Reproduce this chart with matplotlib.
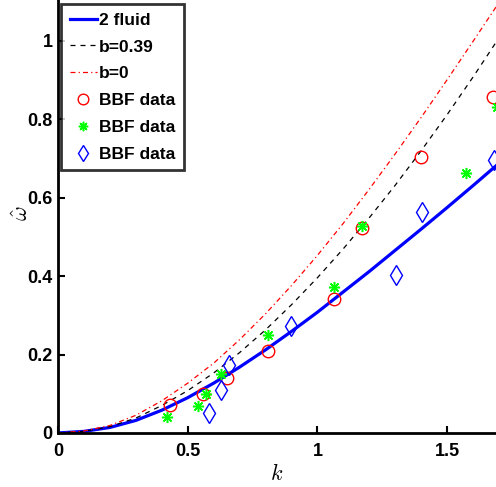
import matplotlib
matplotlib.use("Agg")
import matplotlib.pyplot as plt

# theoretical curves
k_curve = [0.0, 0.1, 0.2, 0.3, 0.4, 0.5, 0.6, 0.7, 0.8, 0.9, 1.0, 1.1, 1.2, 1.3, 1.4, 1.5, 1.6, 1.7]
w_2fluid = [0.0, 0.004, 0.014, 0.032, 0.058, 0.090, 0.127, 0.168, 0.212, 0.259, 0.308, 0.360, 0.412, 0.466, 0.520, 0.575, 0.631, 0.688]
w_b039 = [0.0, 0.004, 0.016, 0.038, 0.070, 0.108, 0.153, 0.205, 0.263, 0.327, 0.396, 0.470, 0.549, 0.632, 0.720, 0.812, 0.908, 1.008]
w_b0 = [0.0, 0.005, 0.019, 0.045, 0.082, 0.127, 0.178, 0.238, 0.304, 0.376, 0.453, 0.535, 0.622, 0.712, 0.805, 0.901, 0.999, 1.098]

# BBF data sets
k_red = [0.432, 0.559, 0.650, 0.810, 1.062, 1.172, 1.400, 1.678]
w_red = [0.070, 0.100, 0.141, 0.210, 0.342, 0.522, 0.704, 0.856]
k_green = [0.419, 0.540, 0.569, 0.628, 0.810, 1.063, 1.172, 1.573, 1.690]
w_green = [0.040, 0.069, 0.100, 0.150, 0.251, 0.372, 0.528, 0.662, 0.830]
k_blue = [0.581, 0.628, 0.659, 0.899, 1.303, 1.401, 1.682]
w_blue = [0.050, 0.110, 0.172, 0.273, 0.402, 0.563, 0.696]

x_ticks = [0, 0.5, 1, 1.5]
x_tick_labels = ["0", "0.5", "1", "1.5"]
y_ticks = [0, 0.2, 0.4, 0.6, 0.8, 1.0]
y_tick_labels = ["0", "0.2", "0.4", "0.6", "0.8", "1"]

plt.rcParams['font.family'] = ['Liberation Sans', 'DejaVu Sans']
plt.rcParams['mathtext.fontset'] = 'cm'

fig = plt.figure(figsize=(4.96, 4.87), dpi=100)
ax = fig.add_axes([0.117, 0.111, 0.883, 0.889])

ax.plot(k_curve, w_2fluid, '-', color='#0000ff', lw=2.3, label='2 fluid')
ax.plot(k_curve, w_b039, '--', color='black', lw=0.9, dashes=(4, 4), label='b=0.39')
ax.plot(k_curve, w_b0, '-.', color='red', lw=0.9, dashes=(4, 2.5, 1, 2.5), label='b=0')
ax.plot(k_red, w_red, 'o', mfc='none', mec='red', ms=9, mew=1.0, label='BBF data')
ax.plot(k_green, w_green, linestyle='none', marker=(8, 2, 0), color='#00ff00', ms=8, mew=1.1, label='BBF data')
ax.plot(k_blue, w_blue, 'd', mfc='none', mec='#0000ff', ms=10, mew=1.0, label='BBF data')

ax.set_xlim(0, 1.688)
ax.set_ylim(0, 1.104)
ax.set_xticks(x_ticks)
ax.set_xticklabels(x_tick_labels)
ax.set_yticks(y_ticks)
ax.set_yticklabels(y_tick_labels)
ax.tick_params(direction='in', length=5, width=1.5, labelsize=13)
ax.tick_params(axis='x', pad=7)
ax.tick_params(axis='y', pad=4)
for lab in ax.get_xticklabels() + ax.get_yticklabels():
    lab.set_fontweight('bold')
for s in ['top', 'right']:
    ax.spines[s].set_visible(False)
for s in ['left', 'bottom']:
    ax.spines[s].set_linewidth(2)

ax.set_xlabel(r'$k$', fontsize=16)
ax.xaxis.set_label_coords(0.5, -0.072)
ax.set_ylabel(r'$\hat{\omega}$', fontsize=16)
ax.yaxis.set_label_coords(-0.058, 0.508)

leg = ax.legend(loc='upper left', bbox_to_anchor=(0.007, 0.991), frameon=True, fancybox=False,
                edgecolor='black', prop={'weight': 'bold', 'size': 12.5}, handlelength=1.55,
                handletextpad=0.15, labelspacing=0.67, borderpad=0.5, borderaxespad=0.0,
                markerscale=0.85)
leg.get_frame().set_linewidth(2)

fig.savefig('out.png', dpi=100)
